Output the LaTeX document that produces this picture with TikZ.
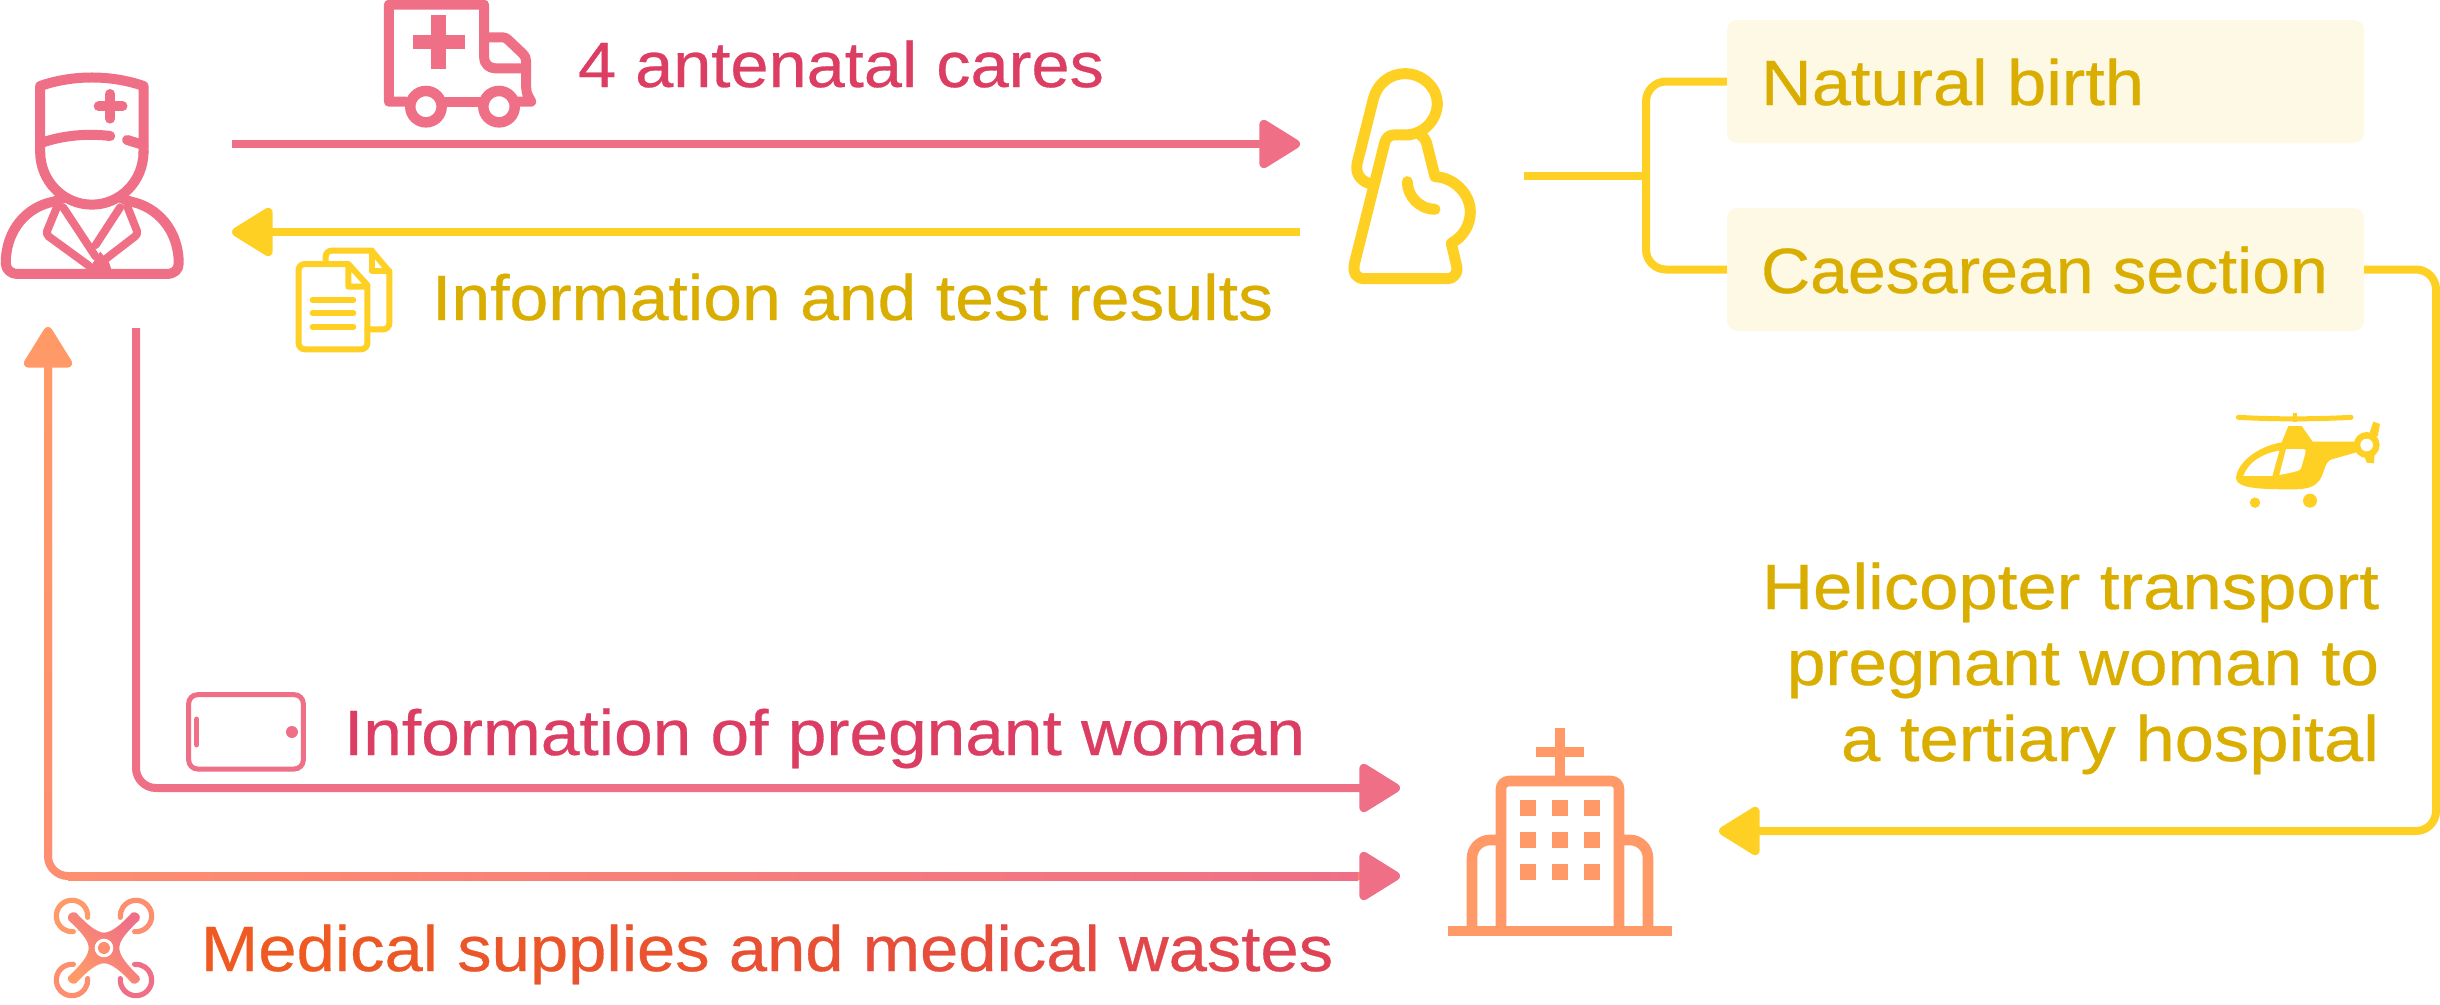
\documentclass[tikz,border=0pt]{standalone}
\usepackage{fontspec}
\usepackage{graphicx}
\setmainfont{Liberation Sans}[FakeBold=0.45]
\usetikzlibrary{arrows.meta}
\definecolor{pinkline}{HTML}{EF6F87}
\definecolor{yelline}{HTML}{FFD024}
\definecolor{orangeline}{HTML}{FF9A68}
\definecolor{cornerc}{HTML}{FD8E6F}
\definecolor{pinktext}{HTML}{DC3D62}
\definecolor{yeltext}{HTML}{D9AE00}
\definecolor{boxfill}{HTML}{FEF9E4}
\newcommand{\fitw}[2]{\resizebox{#1pt}{\height}{#2}}
\tikzset{
  x=1pt,y=-1pt,
  lbl/.style={inner sep=0pt,outer sep=0pt,font=\fontsize{64}{64}\selectfont,anchor=base west},
  lblr/.style={lbl,anchor=base east},
  optionbox/.style={fill=boxfill,rounded corners=10pt,inner sep=0pt,minimum width=637pt,minimum height=123pt},
  conn/.style={line width=8pt,rounded corners=20pt},
  headr/.style={-{Triangle[length=45pt,width=53pt,round,line width=9pt]}},
  stk/.style={line width=11pt,line cap=round,line join=round},
  stkb/.style={line width=10pt,line cap=round,line join=round},
  stkl/.style={line width=8pt,line cap=round,line join=round},
  stkd/.style={line width=6pt,line cap=round,line join=round},
}
\newcommand{\dring}[4]{\draw[line width=5.2pt,line cap=round,color=#4] ([shift={(#3:15.7pt)}]#1,#2) arc[start angle=#3,delta angle=280,radius=15.7pt];}
\begin{document}
\begin{tikzpicture}
\useasboundingbox (0,0) rectangle (2440,1004);
% anchors
\coordinate (docOut) at (232,144);
\coordinate (womanIn) at (1300,144);
\coordinate (womanOut) at (1300,232);
\coordinate (docIn) at (232,232);
\coordinate (womanStub) at (1524,176);
\coordinate (branch) at (1646,176);
\coordinate (hospA) at (1400,788);
\coordinate (hospB) at (1400,876);
\coordinate (hospC) at (1719,831);
\coordinate (docDown) at (136,328);
\coordinate (docUp) at (48,327);
\coordinate (rightRail) at (2436,500);
% boxes
\node[optionbox] (natural) at (2045.5,81.5) {};
\node[optionbox] (caesar) at (2045.5,269.5) {};
\node[lbl,text=yeltext] (naturalT) at (1761,105) {\fitw{383}{Natural birth}};
\node[lbl,text=yeltext] (caesarT) at (1761,293) {\fitw{567}{Caesarean section}};
% connectors
\draw[conn,headr,pinkline] (docOut) -- (womanIn);
\draw[conn,headr,yelline] (womanOut) -- (docIn);
\draw[line width=8pt,yelline] (womanStub) -- (branch);
\draw[conn,yelline] (natural.west) -| (branch) |- (caesar.west);
\draw[conn,headr,yelline] (caesar.east) -| (rightRail) |- (hospC);
\draw[conn,headr,pinkline] (docDown) |- (hospA);
\draw[conn,{Triangle[length=45pt,width=53pt,round,line width=9pt,color=orangeline]}-{Triangle[length=45pt,width=53pt,round,line width=9pt,color=pinkline]},cornerc] (docUp) |- (hospB);
\shade[top color=orangeline,bottom color=cornerc] (44,365) rectangle (52,856);
\shade[left color=cornerc,right color=pinkline] (68,872) rectangle (1358,880);
% labels
\node[lbl,text=pinktext] (t1) at (578,87) {\fitw{526}{4 antenatal cares}};
\node[lbl,text=yeltext] (t2) at (432,320) {\fitw{841}{Information and test results}};
\node[lbl,text=pinktext] (t3) at (344,755) {\fitw{961}{Information of pregnant woman}};
\node[lbl] (t4) at (201,971) {\fitw{1132}{\color[HTML]{EE5A22}Medi\color[HTML]{EC5726}cal \color[HTML]{EB552A}sup\color[HTML]{EA532E}plies \color[HTML]{E85033}and \color[HTML]{E64D3A}med\color[HTML]{E44A42}ical \color[HTML]{E1464B}was\color[HTML]{DF4254}tes}};
\node[lblr,text=yeltext] (h1) at (2379,609) {\fitw{617}{Helicopter transport}};
\node[lblr,text=yeltext] (h2) at (2379,685) {\fitw{592}{pregnant woman to}};
\node[lblr,text=yeltext] (h3) at (2379,761) {\fitw{538}{a tertiary hospital}};
% doctor
\begin{scope}[x=0.3827pt,y=-0.3333pt,pinkline]
\draw[stkb] (105,460) -- (105,258) .. controls (190,224) and (290,224) .. (375,258) -- (375,460);
\draw[stkb] (105,455) .. controls (105,544) and (166,614) .. (240,614) .. controls (314,614) and (375,544) .. (375,455);
\draw[stkb] (105,430) .. controls (165,405) and (230,400) .. (288,408);
\draw[stkb] (332,420) -- (375,435);
\draw[stkb] (258,319) -- (320,319);
\draw[stkb] (288,282) -- (288,356);
\draw[stkb] (165,595) -- (140,605) .. controls (70,620) and (15,690) .. (15,790) .. controls (15,810) and (30,822) .. (45,822) -- (435,822) .. controls (455,822) and (467,810) .. (467,790) .. controls (467,690) and (410,620) .. (342,605) -- (318,595);
\draw[stkl] (150,618) -- (123,693) .. controls (121,700) and (123,706) .. (128,710) -- (232,797);
\draw[stkl] (165,622) -- (250,770);
\draw[stkl] (314,622) -- (250,735);
\draw[stkl] (332,618) -- (358,693) .. controls (360,700) and (357,706) .. (352,710) -- (275,778);
\fill (220,826) -- (245,785) -- (262,755) -- (285,788) -- (296,826) -- cycle;
\end{scope}
% ambulance
\begin{scope}[x=0.3827pt,y=-0.3333pt,pinkline]
\draw[stkb] (1060,305) -- (1016,305) -- (1016,14) -- (1265,14) -- (1265,170) .. controls (1265,195) and (1280,205) .. (1295,205) -- (1375,205);
\draw[stkb] (1265,112) -- (1310,112) .. controls (1320,112) and (1325,115) .. (1330,122) -- (1365,160) .. controls (1372,168) and (1375,175) .. (1375,185) -- (1375,265) .. controls (1375,285) and (1385,295) .. (1388,305) -- (1350,305);
\draw[stkb] (1165,305) -- (1255,305);
\draw[line width=10.5pt] (1113,320) circle[radius=15.7pt];
\draw[line width=10.5pt] (1304,320) circle[radius=15.7pt];
\fill (1127,46) rectangle (1165,207);
\fill (1078,104) rectangle (1215,148);
\end{scope}
% documents
\begin{scope}[shift={(270,220)},x=0.3333pt,y=-0.3333pt,yelline]
\draw[stkd] (235,132) -- (105,132) .. controls (94,132) and (86,140) .. (86,150) -- (86,370) .. controls (86,380) and (94,388) .. (105,388) -- (272,388) .. controls (284,388) and (292,380) .. (292,370) -- (292,195) -- (235,132) -- (235,200) -- (292,200);
\draw[stkd] (167,128) -- (167,110) .. controls (167,100) and (175,92) .. (185,92) -- (305,92) -- (358,155) -- (358,310) .. controls (358,320) and (350,328) .. (340,328) -- (292,328);
\draw[stkd] (305,92) -- (305,152) -- (358,152);
\draw[stkd] (128,240) -- (250,240);
\draw[stkd] (128,280) -- (250,280);
\draw[stkd] (128,320) -- (250,320);
\end{scope}
% woman
\begin{scope}[shift={(1250,40)},x=0.3333pt,y=-0.3333pt,yelline]
\draw[stk] (356,430) .. controls (330,420) and (315,400) .. (322,368) -- (368,185) .. controls (380,130) and (420,101) .. (465,101) .. controls (520,101) and (562,145) .. (562,190) .. controls (562,240) and (520,285) .. (465,285) -- (430,285) .. controls (418,285) and (408,295) .. (405,305) -- (313,672) .. controls (308,700) and (320,716) .. (342,716) -- (590,716) .. controls (612,716) and (625,700) .. (620,678) -- (604,610) .. controls (640,590) and (661,555) .. (661,515) .. controls (661,460) and (610,412) .. (555,410) -- (530,310) .. controls (526,298) and (520,290) .. (512,285);
\draw[stk] (472,425) .. controls (472,470) and (510,508) .. (555,508);
\end{scope}
% helicopter
\begin{scope}[shift={(2200,390)},x=0.3333pt,y=-0.3333pt,yelline]
\draw[line width=5pt,line cap=round] (115,82) .. controls (220,88) and (340,88) .. (453,82);
\draw[line width=4pt] (284,70) -- (284,95);
\fill (265,108) -- (305,108) -- (338,155) -- (465,155) -- (470,187) -- (395,208) .. controls (370,215) and (375,260) .. (350,280) .. controls (330,298) and (300,298) .. (270,298) .. controls (180,298) and (110,295) .. (108,265) .. controls (110,220) and (170,170) .. (245,157) -- cycle;
\fill (500,165) circle[radius=13pt];
\fill (508,130) -- (520,95) -- (540,102) -- (533,140) -- cycle;
\fill (492,195) -- (500,218) -- (522,220) -- (524,190) -- cycle;
\fill[white] (130,258) .. controls (145,215) and (190,190) .. (238,182) -- (217,258) -- cycle;
\fill[white] (258,177) -- (310,177) .. controls (318,177) and (318,182) .. (316,190) -- (304,232) .. controls (302,242) and (290,245) .. (238,255) -- cycle;
\fill[white] (500,165) circle[radius=6.3pt];
\fill (165,338) circle[radius=5.2pt];
\fill (330,332) circle[radius=7pt];
\end{scope}
% hospital
\begin{scope}[orangeline]
\draw[line width=10.6pt] (1448,931) -- (1672,931);
\draw[line width=10.6pt,rounded corners=8pt] (1501,931) -- (1501,781) -- (1619,781) -- (1619,931);
\draw[line width=10.6pt,rounded corners=18pt] (1472,931) -- (1472,840) -- (1501,840);
\draw[line width=10.6pt,rounded corners=18pt] (1648,931) -- (1648,840) -- (1619,840);
\draw[line width=10.6pt] (1560,728) -- (1560,781);
\draw[line width=10.6pt] (1536,752) -- (1584,752);
\foreach \wx in {1520,1552,1584}{\foreach \wy in {800,832,864}{\fill (\wx,\wy) rectangle ++(16,16);}}
\end{scope}
% tablet
\begin{scope}[shift={(0,670)},x=0.3333pt,y=-0.3333pt,pinkline]
\draw[line width=5pt,rounded corners=9pt] (566,74) rectangle (910,297);
\draw[line width=5.5pt,line cap=round] (590,148) -- (590,224);
\fill (876,186) circle[radius=6pt];
\end{scope}
% drone
\begin{scope}[shift={(0,670)},x=0.3333pt,y=-0.3333pt]
\dring{216}{738}{-5}{orangeline}
\dring{408}{738}{265}{cornerc}
\dring{216}{930}{85}{cornerc}
\dring{408}{930}{175}{pinkline}
\shade[left color=orangeline,right color=pinkline,shading angle=135] (205,750) .. controls (198,735) and (215,722) .. (228,728) .. controls (260,762) and (290,788) .. (312,788) .. controls (335,788) and (365,762) .. (396,728) .. controls (408,722) and (426,735) .. (418,750) .. controls (382,785) and (358,810) .. (358,834) .. controls (358,858) and (382,885) .. (418,920) .. controls (426,932) and (408,946) .. (396,940) .. controls (365,905) and (335,880) .. (312,880) .. controls (290,880) and (260,905) .. (228,940) .. controls (215,946) and (198,932) .. (205,920) .. controls (242,885) and (266,858) .. (266,834) .. controls (266,810) and (242,785) .. (205,750) -- cycle;
\fill[white] (312,834) circle[radius=9.3pt];
\fill[cornerc] (312,834) circle[radius=6pt];
\end{scope}
\end{tikzpicture}
\end{document}
